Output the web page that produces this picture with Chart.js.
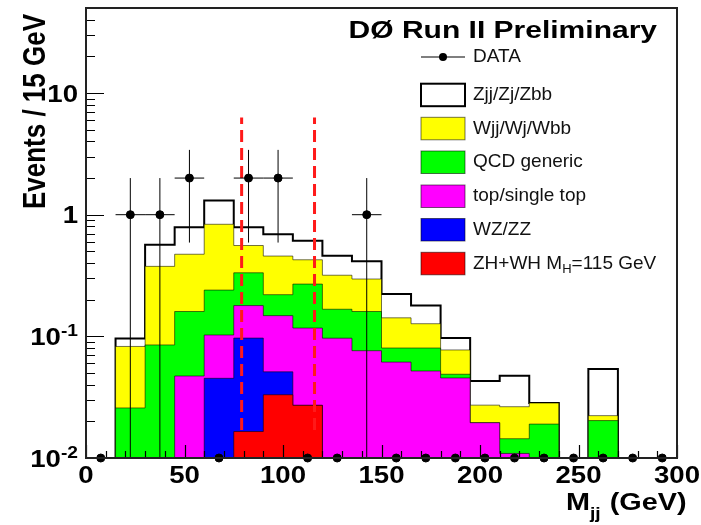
<!DOCTYPE html>
<html>
<head>
<meta charset="utf-8">
<script src="https://cdn.jsdelivr.net/npm/chart.js@4.4.1/dist/chart.umd.min.js"></script>
<style>
  html, body { margin: 0; padding: 0; background: #fff; }
  canvas { display: block; }
</style>
</head>
<body>
<canvas id="chart" width="701" height="525"></canvas>
<script>
// Mjj histogram, 15 GeV bins from 0 to 300
const binEdges = [0, 15, 30, 45, 60, 75, 90, 105, 120, 135, 150, 165, 180, 195, 210, 225, 240, 255, 270, 285, 300];

// data counts and their errors
const dataCounts = [0, 1, 1, 2, 0, 2, 2, 0, 0, 1, 0, 0, 0, 0, 0, 0, 0, 0, 0, 0];
const dataErr = [0, 1, 1, 1.41, 0, 1.41, 1.41, 0, 0, 1, 0, 0, 0, 0, 0, 0, 0, 0, 0, 0];

// stacked backgrounds (cumulative top of each layer)
const stackZjj = [0, 0.096, 0.566, 0.789, 1.31, 0.789, 0.692, 0.611, 0.46, 0.415, 0.223, 0.179, 0.0968, 0.043, 0.0475, 0.0283, 0, 0.054, 0, 0];
const stackWjj = [0, 0.0826, 0.376, 0.473, 0.834, 0.558, 0.457, 0.426, 0.318, 0.296, 0.142, 0.127, 0.0773, 0.0272, 0.0264, 0.0283, 0, 0.0223, 0, 0];
const stackQCD = [0, 0.0258, 0.085, 0.16, 0.24, 0.333, 0.22, 0.269, 0.167, 0.16, 0.0802, 0.0802, 0.0488, 0.0195, 0.0144, 0.019, 0, 0.0203, 0, 0];
const stackTop = [0, 0, 0, 0.0472, 0.1026, 0.179, 0.148, 0.117, 0.0966, 0.0762, 0.0614, 0.0519, 0.0455, 0.0195, 0.0109, 0, 0, 0, 0, 0];
const stackWZ = [0, 0, 0, 0, 0.0452, 0.0968, 0.0511, 0.0271, 0, 0, 0, 0, 0, 0, 0, 0, 0, 0, 0, 0];
const stackZH = [0, 0, 0, 0, 0, 0.0165, 0.0331, 0.0271, 0, 0, 0, 0, 0, 0, 0, 0, 0, 0, 0, 0];

// mass window markers
const windowX = [79, 116];
const windowY = [0.017, 6.3];

const xTicks = [0, 50, 100, 150, 200, 250, 300];
const yTicks = [0.01, 0.1, 1, 10];
const yTickLabels = [["10", "-2"], ["10", "-1"], ["1", ""], ["10", ""]];

const legendLabels = ["DATA", "Zjj/Zj/Zbb", "Wjj/Wj/Wbb", "QCD generic", "top/single top", "WZ/ZZ", "ZH+WH M|H|=115 GeV"];
const legendColors = [null, "#ffffff", "#ffff00", "#00ff00", "#ff00ff", "#0000ff", "#ff0000"];

const Y_MIN = 0.01;
const Y_MAX = 50;
const FONT = '"Liberation Sans", Arial, Helvetica, sans-serif';
const STRETCH = 1.2; // bold labels are drawn a bit wide

function stepPoints(vals) {
  const pts = [{ x: binEdges[0], y: Y_MIN }];
  vals.forEach((v, i) => pts.push({ x: binEdges[i], y: Math.max(v, Y_MIN) }));
  pts.push({ x: binEdges[vals.length], y: Math.max(vals[vals.length - 1], Y_MIN) });
  pts.push({ x: binEdges[vals.length], y: Y_MIN });
  return pts;
}

function layer(vals, color, lineColor, width) {
  return {
    data: stepPoints(vals),
    stepped: true,
    fill: "start",
    backgroundColor: color,
    borderColor: lineColor,
    borderWidth: width,
    pointRadius: 0,
  };
}

const centers = dataCounts.map((c, i) => (binEdges[i] + binEdges[i + 1]) / 2);

const dataSet = {
  data: dataCounts.map((c, i) => ({ x: centers[i], y: Math.max(c, Y_MIN) })),
  showLine: false,
  pointRadius: 4,
  pointBackgroundColor: "#000",
  pointBorderColor: "#000",
  clip: false,
};

function windowLine(x) {
  return {
    data: [{ x: x, y: windowY[0] }, { x: x, y: windowY[1] }],
    borderColor: "#ff1a1a",
    borderWidth: 3,
    borderDash: [12, 6],
    pointRadius: 0,
    fill: false,
  };
}

// text drawn with a horizontal stretch, returns drawn width
function wideText(ctx, text, x, y, size, align, sx) {
  ctx.save();
  ctx.font = "bold " + size + "px " + FONT;
  ctx.textAlign = align;
  ctx.translate(x, y);
  ctx.scale(sx || STRETCH, 1);
  ctx.fillText(text, 0, 0);
  const w = ctx.measureText(text).width * (sx || STRETCH);
  ctx.restore();
  return w;
}

const decor = {
  id: "decor",
  afterDatasetsDraw(chart) {
    const ctx = chart.ctx;
    const xs = chart.scales.x, ys = chart.scales.y;
    // error bars
    ctx.save();
    ctx.strokeStyle = "#000";
    ctx.lineWidth = 1;
    dataCounts.forEach((c, i) => {
      const y = ys.getPixelForValue(Math.max(c, Y_MIN));
      ctx.beginPath();
      ctx.moveTo(xs.getPixelForValue(binEdges[i]), y);
      ctx.lineTo(xs.getPixelForValue(binEdges[i + 1]), y);
      if (dataErr[i] > 0) {
        const lo = Math.max(c - dataErr[i], Y_MIN);
        const cx = xs.getPixelForValue(centers[i]);
        ctx.moveTo(cx, ys.getPixelForValue(c + dataErr[i]));
        ctx.lineTo(cx, lo <= Y_MIN ? ys.bottom : ys.getPixelForValue(lo));
      }
      ctx.stroke();
    });
    ctx.restore();
  },
  afterDraw(chart) {
    const ctx = chart.ctx;
    const a = chart.chartArea;
    const xs = chart.scales.x, ys = chart.scales.y;
    ctx.save();
    // ticks
    ctx.strokeStyle = "#000";
    ctx.lineWidth = 1.2;
    ctx.beginPath();
    for (let d = -2; d <= 1; d++) {
      for (let m = 1; m <= 9; m++) {
        const v = m * Math.pow(10, d);
        if (v > Y_MAX) continue;
        const y = Math.round(ys.getPixelForValue(v)) + 0.5;
        ctx.moveTo(a.left, y);
        ctx.lineTo(a.left + (m === 1 ? 18 : 9), y);
      }
    }
    for (let g = 0; g <= 300; g += 10) {
      const x = Math.round(xs.getPixelForValue(g)) + 0.5;
      ctx.moveTo(x, a.bottom);
      ctx.lineTo(x, a.bottom - (g % 50 === 0 ? 13 : 7));
    }
    ctx.stroke();
    // frame
    ctx.lineWidth = 2;
    ctx.strokeStyle = "#222";
    ctx.strokeRect(a.left, a.top, a.right - a.left, a.bottom - a.top);

    // tick labels
    ctx.fillStyle = "#000";
    ctx.textBaseline = "alphabetic";
    xTicks.forEach((t) => wideText(ctx, String(t), xs.getPixelForValue(t), 483, 23, "center"));
    yTicks.forEach((t, i) => {
      const y = ys.getPixelForValue(t);
      const [base, sup] = yTickLabels[i];
      let right = 78;
      if (sup) right -= wideText(ctx, sup, right, y, 16, "right");
      wideText(ctx, base, right, y + 8.5, 23, "right");
    });

    // axis titles
    ctx.save();
    ctx.translate(45, 14);
    ctx.rotate(-Math.PI / 2);
    ctx.scale(1, STRETCH);
    ctx.textAlign = "right";
    ctx.font = "bold 26px " + FONT;
    ctx.fillText("Events / 15 GeV", 0, 0);
    ctx.restore();

    let x0 = 566;
    x0 += wideText(ctx, "M", x0, 510, 24, "left");
    x0 += wideText(ctx, "jj", x0, 519, 16, "left") + 1;
    wideText(ctx, " (GeV)", x0, 510, 24, "left");

    // header
    wideText(ctx, "D\u00d8 Run II Preliminary", 657, 38, 24, "right", 1.25);

    // legend
    ctx.textAlign = "left";
    ctx.textBaseline = "middle";
    const rowY = [57, 94.7, 128.3, 162, 196, 229.5, 263.3];
    legendLabels.forEach((lab, i) => {
      const y = rowY[i];
      if (i === 0) {
        ctx.strokeStyle = "#000";
        ctx.lineWidth = 1.2;
        ctx.beginPath();
        ctx.moveTo(421, y);
        ctx.lineTo(465, y);
        ctx.stroke();
        ctx.beginPath();
        ctx.arc(443, y, 4, 0, Math.PI * 2);
        ctx.fill();
      } else {
        ctx.fillStyle = legendColors[i];
        ctx.fillRect(421, y - 11, 44, 22.5);
        ctx.strokeStyle = i === 1 ? "#000" : "rgba(0,0,0,0.55)";
        ctx.lineWidth = i === 1 ? 2 : 1;
        ctx.strokeRect(421, y - 11, 44, 22.5);
      }
      ctx.fillStyle = "#111";
      const parts = lab.split("|");
      let tx = 473;
      parts.forEach((p, k) => {
        if (k % 2 === 1) {
          ctx.font = "13px " + FONT;
          ctx.fillText(p, tx, y + 6);
        } else {
          ctx.font = "19px " + FONT;
          ctx.fillText(p, tx, y);
        }
        tx += ctx.measureText(p).width;
      });
    });
    ctx.restore();
  },
};

new Chart(document.getElementById("chart"), {
  type: "line",
  data: {
    datasets: [
      dataSet,
      windowLine(windowX[0]),
      windowLine(windowX[1]),
      layer(stackZH, "#ff0000", "rgba(0,0,0,0.55)", 1),
      layer(stackWZ, "#0000ff", "rgba(0,0,0,0.55)", 1),
      layer(stackTop, "#ff00ff", "rgba(0,0,0,0.55)", 1),
      layer(stackQCD, "#00ff00", "rgba(0,0,0,0.55)", 1),
      layer(stackWjj, "#ffff00", "rgba(0,0,0,0.55)", 1),
      layer(stackZjj, "#ffffff", "#000", 2),
    ],
  },
  options: {
    responsive: false,
    animation: false,
    events: [],
    layout: { padding: { top: 8, right: 24, left: 0, bottom: 0 } },
    plugins: { legend: { display: false }, tooltip: { enabled: false } },
    scales: {
      x: {
        type: "linear",
        min: 0,
        max: 300,
        ticks: { display: false },
        grid: { display: false },
        border: { display: false },
        afterFit: (s) => { s.height = 67; },
      },
      y: {
        type: "logarithmic",
        min: Y_MIN,
        max: Y_MAX,
        ticks: { display: false },
        grid: { display: false },
        border: { display: false },
        afterFit: (s) => { s.width = 86; },
      },
    },
  },
  plugins: [decor],
});
</script>
</body>
</html>
